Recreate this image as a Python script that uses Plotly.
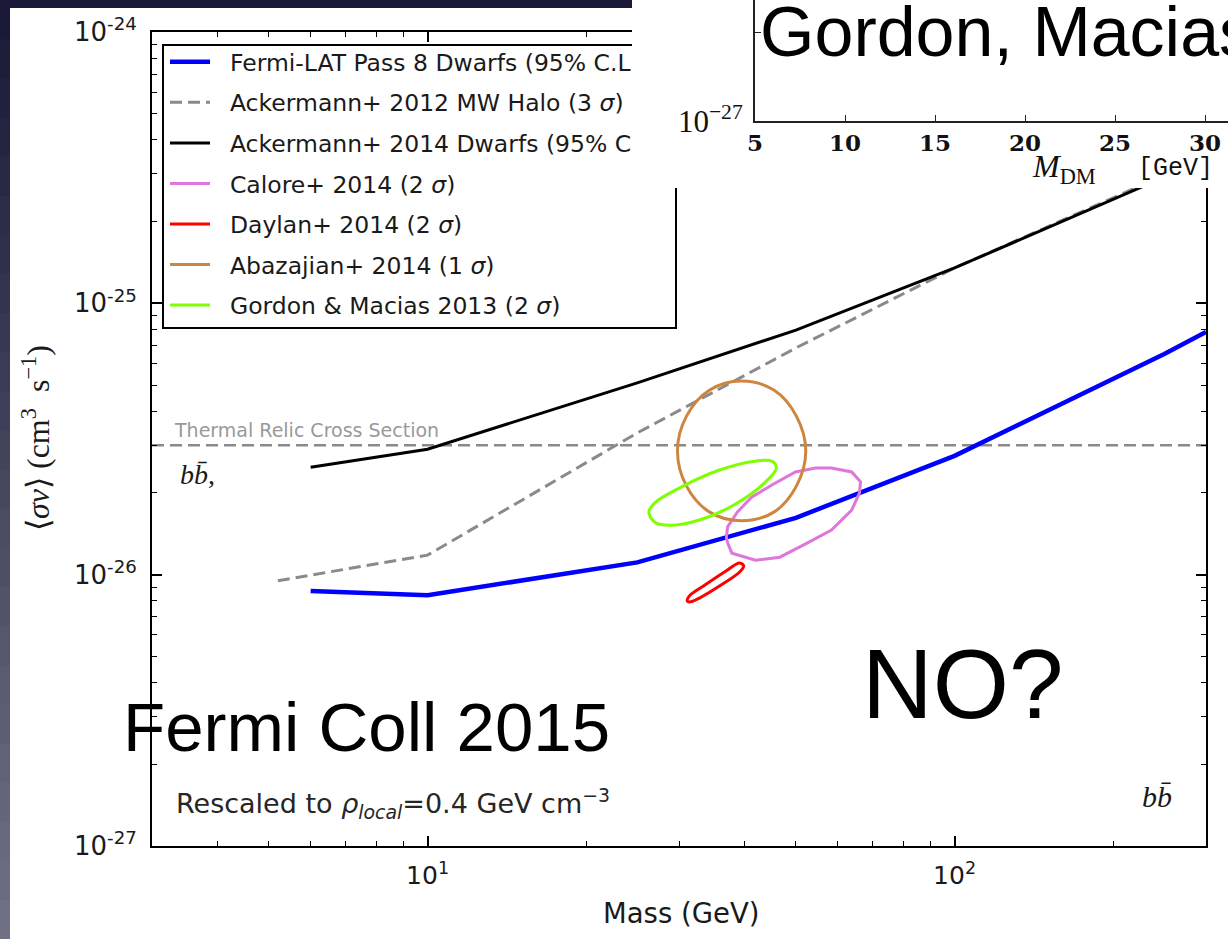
import plotly.graph_objects as go

W, H = 1228, 939

# ---------------- data ----------------
fermi_mass = [6, 10, 25, 50, 100, 250, 300]
fermi_sv = [8.7e-27, 8.4e-27, 1.11e-26, 1.62e-26, 2.74e-26, 6.5e-26, 7.84e-26]

ack14_mass = [6, 10, 25, 50, 100, 224, 300]
ack14_sv = [2.49e-26, 2.9e-26, 5.09e-26, 7.97e-26, 1.35e-25, 2.66e-25, 3.4e-25]

ack12_mass = [5.2, 10, 25, 50, 100, 224, 300]
ack12_sv = [9.5e-27, 1.18e-26, 3.33e-26, 6.85e-26, 1.35e-25, 2.7e-25, 3.5e-25]

thermal_mass = [3, 300]
thermal_sv = [3e-26, 3e-26]

calore_mass = [37.1, 37.8, 41.9, 46.6, 52.6, 58.4, 63.8, 66.0, 66.3, 63.8, 58.4,
               54.5, 49.9, 45.0, 41.2, 38.7, 37.1, 36.9, 37.1]
calore_sv = [1.31e-26, 1.20e-26, 1.13e-26, 1.16e-26, 1.31e-26, 1.46e-26, 1.73e-26,
             2.00e-26, 2.20e-26, 2.39e-26, 2.47e-26, 2.47e-26, 2.39e-26, 2.14e-26,
             1.93e-26, 1.70e-26, 1.50e-26, 1.37e-26, 1.31e-26]

daylan_mass = [31.1, 31.4, 33.6, 36.6, 39.1, 39.8, 39.1, 35.8, 32.8, 31.4, 31.1]
daylan_sv = [8.00e-27, 8.35e-27, 9.16e-27, 1.023e-26, 1.104e-26, 1.076e-26,
             1.023e-26, 9.08e-27, 8.20e-27, 7.93e-27, 8.00e-27]

abaz_mass = [52.2, 50.1, 45.4, 39.4, 34.3, 31.0, 29.8, 31.0, 34.3, 39.4, 45.4, 50.1, 52.2]
abaz_sv = [2.86e-26, 3.84e-26, 4.79e-26, 5.17e-26, 4.79e-26, 3.84e-26, 2.86e-26,
           2.12e-26, 1.70e-26, 1.58e-26, 1.70e-26, 2.12e-26, 2.86e-26]

gordon_mass = [26.3, 27.0, 28.8, 32.8, 38.2, 43.6, 45.9, 45.0, 41.7, 35.8, 30.1, 27.0, 26.3]
gordon_sv = [1.70e-26, 1.56e-26, 1.52e-26, 1.59e-26, 1.81e-26, 2.18e-26, 2.47e-26,
             2.62e-26, 2.62e-26, 2.43e-26, 2.09e-26, 1.84e-26, 1.70e-26]

x_major = [10, 100]
x_major_text = ["10<sup>1</sup>", "10<sup>2</sup>"]
x_minor = [4, 5, 6, 7, 8, 9, 20, 30, 40, 50, 60, 70, 80, 90, 200, 300]
y_major = [1e-27, 1e-26, 1e-25, 1e-24]
y_major_text = ["10<sup>-27</sup>", "10<sup>-26</sup>", "10<sup>-25</sup>", "10<sup>-24</sup>"]
y_minor = [k * 10.0 ** e for e in (-27, -26, -25) for k in range(2, 10)]

inset_x_ticks = [5, 10, 15, 20, 25, 30]
inset_y_ticks = [1e-27, 1e-26]
inset_y_text = ["10<sup>\u221227</sup>", " "]

legend_names = [
    "Fermi-LAT Pass 8 Dwarfs (95% C.L",
    "Ackermann+ 2012 MW Halo (3 <i>\u03c3</i>)",
    "Ackermann+ 2014 Dwarfs (95% C",
    "Calore+ 2014 (2 <i>\u03c3</i>)",
    "Daylan+ 2014 (2 <i>\u03c3</i>)",
    "Abazajian+ 2014 (1 <i>\u03c3</i>)",
    "Gordon &amp; Macias 2013 (2 <i>\u03c3</i>)",
]

# ---------------- helpers ----------------
def fx(p):
    return p / W


def fy(p):
    return 1 - p / H


PAD = "\u00a0\u00a0"
fig = go.Figure()

GRAY = "#8a8a8a"

fig.add_trace(go.Scatter(x=thermal_mass, y=thermal_sv, mode="lines",
                         line=dict(color=GRAY, width=2.5, dash="12px,6px"),
                         showlegend=False, hoverinfo="skip"))
fig.add_trace(go.Scatter(x=ack12_mass, y=ack12_sv, mode="lines", name=PAD + legend_names[1],
                         line=dict(color=GRAY, width=3, dash="12px,6px"),
                         legendgroup="b", legendrank=2))
fig.add_trace(go.Scatter(x=ack14_mass, y=ack14_sv, mode="lines", name=PAD + legend_names[2],
                         line=dict(color="black", width=3), legendgroup="c", legendrank=3))
fig.add_trace(go.Scatter(x=fermi_mass, y=fermi_sv, mode="lines", name=PAD + legend_names[0],
                         line=dict(color="#0000ff", width=4.5), legendgroup="a", legendrank=1))
fig.add_trace(go.Scatter(x=calore_mass, y=calore_sv, mode="lines", name=PAD + legend_names[3],
                         line=dict(color="#dd77dd", width=3), legendgroup="d", legendrank=4))
fig.add_trace(go.Scatter(x=daylan_mass, y=daylan_sv, mode="lines", name=PAD + legend_names[4],
                         line=dict(color="#ff0000", width=3, shape="spline", smoothing=1),
                         legendgroup="e", legendrank=5))
fig.add_trace(go.Scatter(x=abaz_mass, y=abaz_sv, mode="lines", name=PAD + legend_names[5],
                         line=dict(color="#cd853f", width=3, shape="spline", smoothing=1),
                         legendgroup="f", legendrank=6))
fig.add_trace(go.Scatter(x=gordon_mass, y=gordon_sv, mode="lines", name=PAD + legend_names[6],
                         line=dict(color="#7fff00", width=3, shape="spline", smoothing=1),
                         legendgroup="g", legendrank=7))

# white cover of the pasted inset (subplot 2)
fig.add_trace(go.Scatter(x=[-0.1, 1.1, 1.1, -0.1, -0.1], y=[-0.1, -0.1, 1.1, 1.1, -0.1],
                         xaxis="x2", yaxis="y2", mode="lines", fill="toself",
                         fillcolor="white", line=dict(width=0, color="white"),
                         showlegend=False, hoverinfo="skip"))
# inset axes (subplot 3) - empty frame
fig.add_trace(go.Scatter(x=[None], y=[None], xaxis="x3", yaxis="y3", mode="lines",
                         showlegend=False, hoverinfo="skip"))

TICKFONT = dict(family="DejaVu Sans", size=26, color="#1a1a1a")

fig.update_layout(
    template="none",
    width=W, height=H, autosize=False,
    margin=dict(l=0, r=0, t=0, b=0, pad=0, autoexpand=False),
    paper_bgcolor="white", plot_bgcolor="white",
    showlegend=True,
    xaxis=dict(type="log", range=[0.47712, 2.47712], domain=[fx(152), fx(1206)],
               tickmode="array", tickvals=x_major, ticktext=x_major_text,
               ticks="inside", ticklen=10, tickwidth=1.5, tickcolor="black",
               showline=True, linewidth=2, linecolor="black", mirror="ticks",
               showgrid=False, zeroline=False, automargin=False,
               tickfont=dict(family="DejaVu Sans", size=25, color="#1a1a1a"),
               ticklabelstandoff=6,
               minor=dict(tickmode="array", tickvals=x_minor, ticks="inside", ticklen=5,
                          tickwidth=1.2, tickcolor="black", showgrid=False),
               anchor="y"),
    yaxis=dict(type="log", range=[-27, -24], domain=[fy(846), fy(32)],
               tickmode="array", tickvals=y_major, ticktext=y_major_text,
               ticks="inside", ticklen=10, tickwidth=1.5, tickcolor="black",
               showline=True, linewidth=2, linecolor="black", mirror="ticks",
               showgrid=False, zeroline=False, tickfont=TICKFONT, automargin=False,
               ticklabelstandoff=8,
               minor=dict(tickmode="array", tickvals=y_minor, ticks="inside", ticklen=5,
                          tickwidth=1.2, tickcolor="black", showgrid=False),
               anchor="x"),
    xaxis2=dict(domain=[fx(632), 1], range=[0, 1], visible=False, anchor="y2", automargin=False),
    yaxis2=dict(domain=[fy(188), 1], range=[0, 1], visible=False, anchor="x2", automargin=False),
    xaxis3=dict(domain=[fx(755), 1], range=[5, 5 + (1228 - 755) / 18.0], anchor="y3",
                tickmode="array", tickvals=inset_x_ticks,
                ticktext=["<b>%d</b>" % v for v in inset_x_ticks],
                ticks="inside", ticklen=6, tickwidth=1.2, tickcolor="#222",
                showline=True, linewidth=2, linecolor="#222", showgrid=False, zeroline=False,
                automargin=False, ticklabelstandoff=0,
                tickfont=dict(family="DejaVu Serif", size=23, color="#111")),
    yaxis3=dict(domain=[fy(121), 1], type="log", range=[-27, -27 + 121 / 89.0], anchor="x3",
                tickmode="array", tickvals=inset_y_ticks, ticktext=inset_y_text,
                ticks="inside", ticklen=6, tickwidth=1.2, tickcolor="#222",
                showline=True, linewidth=2, linecolor="#222", showgrid=False, zeroline=False,
                automargin=False, ticklabelstandoff=4,
                tickfont=dict(family="Liberation Serif", size=31, color="#111")),
    legend=dict(x=fx(165), y=fy(40), xanchor="left", yanchor="top",
                bgcolor="rgba(0,0,0,0)", borderwidth=0,
                font=dict(family="DejaVu Sans", size=23.5, color="#1a1a1a"),
                itemwidth=40, traceorder="grouped", tracegroupgap=7),
)

shapes = []
# legend frame (below the data layer so the inset covers it)
shapes.append(dict(type="rect", xref="paper", yref="paper", x0=fx(163), x1=fx(676),
                   y0=fy(328), y1=fy(45), line=dict(color="black", width=2),
                   fillcolor="white", layer="below"))
# slide background: dark strips
c0 = (26, 26, 56)
c1 = (112, 112, 132)
n = 24
for i in range(n):
    t = i / (n - 1)
    col = "rgb(%d,%d,%d)" % tuple(int(round(a + (b - a) * t)) for a, b in zip(c0, c1))
    shapes.append(dict(type="rect", xref="paper", yref="paper", x0=0, x1=fx(10),
                       y0=fy(H * (i + 1) / n + 1), y1=fy(H * i / n), line=dict(width=0),
                       fillcolor=col, layer="above"))
shapes.append(dict(type="rect", xref="paper", yref="paper", x0=0, x1=fx(632),
                   y0=fy(8), y1=1, line=dict(width=0), fillcolor="rgb(26,26,56)", layer="above"))
fig.update_layout(shapes=shapes)

ann = []
def add(text, x, y, size, family="DejaVu Sans", color="black", xanchor="left", yanchor="middle", angle=0):
    ann.append(dict(text=text, x=fx(x), y=fy(y), xref="paper", yref="paper", showarrow=False,
                    xanchor=xanchor, yanchor=yanchor, textangle=angle,
                    font=dict(family=family, size=size, color=color)))

add("Gordon, Macias", 758, 32, 70, family="Liberation Sans")
add("<i>M</i><sub>DM</sub>", 1030, 168, 32, family="Liberation Serif", color="#111")
add("[GeV]", 1136, 169, 25, family="Liberation Mono", color="#111")
add("\u27e8<i>\u03c3v</i>\u27e9 (cm<sup>3</sup>  s<sup>\u22121</sup>)", 36, 438, 32,
    family="Liberation Serif", color="#1a1a1a", xanchor="center", angle=-90)
add("Mass (GeV)", 681, 913, 27.5, color="#1a1a1a", xanchor="center")
add("Thermal Relic Cross Section", 172, 430, 19, color="#999999")
add("<i>bb\u0304</i>,", 178, 474, 28, family="Liberation Serif", color="#1a1a1a")
add("<i>bb\u0304</i>", 1157, 796, 30, family="Liberation Serif", color="#1a1a1a", xanchor="center")
add("Rescaled to <i>\u03c1<sub>local</sub></i>=0.4 GeV cm<sup>\u22123</sup>", 174, 803, 27,
    color="#262626")
add("Fermi Coll 2015", 121, 727, 69, family="Liberation Sans")
add("NO?", 860, 684, 98, family="Liberation Sans")
fig.update_layout(annotations=ann)

fig.write_html("out.html")
